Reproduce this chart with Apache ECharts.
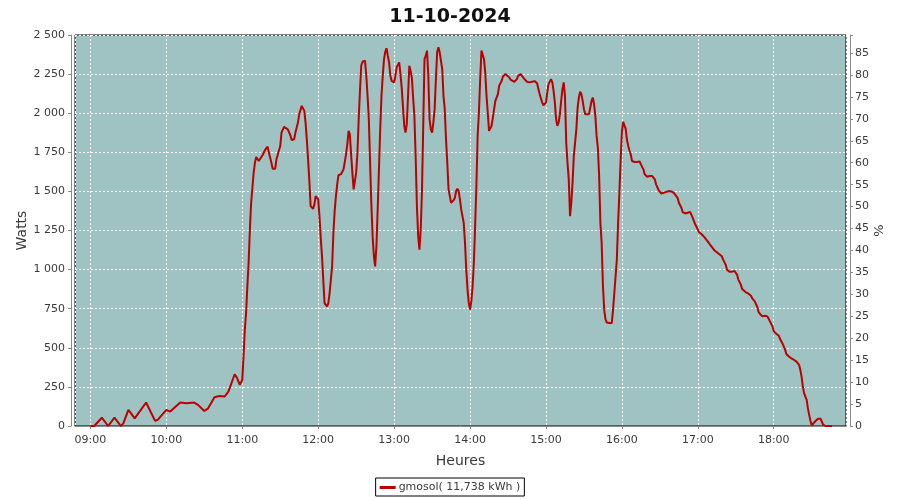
<!DOCTYPE html>
<html>
<head>
<meta charset="utf-8">
<script src="https://cdn.jsdelivr.net/npm/echarts@6/dist/echarts.min.js"></script>
<style>html,body{margin:0;padding:0;background:#fff}#c{width:900px;height:500px}</style>
</head>
<body>
<div id="c"></div>
<script>
var chartTitle = '11-10-2024';
var day = '2024-10-11';
var seriesName = 'gmosol( 11,738 kWh )';
var times = ['09:00','09:03','09:09','09:14','09:19','09:24','09:26','09:30','09:35','09:44','09:51','09:53','10:00','10:03','10:11','10:16','10:22','10:25','10:30','10:33','10:38','10:42','10:46','10:49','10:54','10:56','10:58','11:00',
'11:01','11:02','11:03','11:04','11:05','11:06','11:07','11:09','11:10','11:11','11:13','11:14','11:16','11:18','11:20','11:21','11:23','11:24','11:26','11:27','11:30','11:31','11:33','11:34','11:36','11:38','11:39','11:41','11:42','11:44','11:45','11:47','11:49','11:50','11:51','11:52','11:53','11:54','11:56','11:57','11:58',
'12:00','12:01','12:02','12:03','12:04','12:05','12:07','12:08','12:09','12:10','12:11','12:12','12:13','12:14','12:15','12:16','12:18','12:20','12:22','12:23','12:24','12:25','12:26','12:27','12:28','12:29','12:30','12:31','12:32','12:33','12:34','12:35','12:37','12:38','12:39','12:40','12:41','12:42','12:43','12:44','12:45','12:46','12:47','12:48','12:49','12:50','12:51','12:52','12:53','12:54','12:55','12:56','12:57','12:58',
'13:00','13:01','13:02','13:04','13:05','13:06','13:07','13:08','13:09','13:10','13:11','13:12','13:13','13:14','13:15','13:16','13:17','13:18','13:19','13:20','13:21','13:22','13:23','13:24','13:25','13:26','13:27','13:28','13:29','13:30','13:31','13:32','13:33','13:34','13:35','13:36','13:38','13:39','13:40','13:41','13:42','13:43','13:44','13:45','13:47','13:48','13:49','13:50','13:51','13:52','13:53','13:55','13:56','13:57','13:58','13:59',
'14:00','14:01','14:02','14:03','14:04','14:05','14:06','14:07','14:08','14:09','14:10','14:11','14:12','14:13','14:14','14:15','14:16','14:17','14:18','14:19','14:20','14:22','14:23','14:25','14:26','14:28','14:29','14:31','14:32','14:35','14:37','14:38','14:40','14:41','14:43','14:45','14:47','14:49','14:51','14:53','14:54','14:55','14:57','14:58',
'15:00','15:01','15:02','15:04','15:05','15:06','15:07','15:08','15:09','15:10','15:11','15:12','15:13','15:14','15:15','15:16','15:17','15:18','15:19','15:20','15:21','15:22','15:24','15:25','15:26','15:27','15:28','15:29','15:30','15:31','15:34','15:35','15:36','15:37','15:38','15:39','15:40','15:41','15:42','15:43','15:44','15:45','15:46','15:47','15:48','15:50','15:52','15:53','15:54','15:55','15:56','15:57','15:58','15:59',
'16:00','16:01','16:02','16:03','16:04','16:05','16:06','16:07','16:08','16:10','16:12','16:14','16:15','16:17','16:18','16:20','16:22','16:24','16:26','16:27','16:29','16:31','16:33','16:34','16:37','16:39','16:41','16:42','16:44','16:45','16:47','16:48','16:50','16:52','16:54','16:55','16:56','16:58',
'17:00','17:01','17:03','17:05','17:07','17:09','17:11','17:13','17:15','17:17','17:19','17:20','17:22','17:23','17:25','17:27','17:29','17:31','17:32','17:34','17:35','17:38','17:40','17:42','17:43','17:45','17:47','17:48','17:49','17:51','17:53','17:55','17:57','17:59',
'18:00','18:02','18:04','18:05','18:07','18:09','18:10','18:12','18:14','18:16','18:18','18:20','18:21','18:22','18:23','18:24','18:26','18:27','18:28','18:29','18:30','18:31','18:33','18:35','18:36','18:37','18:38','18:39','18:41','18:46'];
var watts = [0,0,53,0,53,0,17,103,49,150,34,38,103,92,150,145,150,135,96,113,184,192,188,220,331,305,263,295,
444,615,722,893,1043,1256,1427,1620,1684,1720,1694,1688,1731,1765,1786,1748,1684,1645,1645,1705,1790,1876,1912,1919,1897,1859,1829,1833,1876,1940,1994,2047,2015,1940,1833,1705,1566,1406,1389,1417,1470,
1449,1342,1203,1085,936,786,765,786,850,936,1021,1235,1374,1470,1545,1603,1610,1641,1737,1801,1887,1865,1737,1620,1513,1502,1620,1748,1962,2143,2303,2329,2335,2239,2111,1962,1684,1417,1214,1085,1021,1150,1385,1641,1897,2111,2239,2346,2393,2415,2368,2325,2239,2207,
2197,2239,2293,2325,2250,2160,2040,1920,1876,1930,2111,2303,2271,2228,2100,1983,1726,1406,1214,1128,1256,1500,1919,2346,2368,2400,2239,1962,1897,1876,1940,2026,2218,2389,2421,2389,2282,2111,2026,1833,1684,1513,1470,1427,1444,1459,1502,1517,1502,1449,1385,1299,1171,1000,872,786,
744,797,893,1043,1278,1534,1855,2004,2218,2400,2389,2346,2261,2111,2004,1887,1880,1919,1972,2026,2079,2122,2175,2207,2235,2250,2250,2229,2214,2201,2218,2239,2250,2239,2218,2201,2197,2201,2205,2192,2154,2122,2068,2051,
2068,2132,2186,2218,2197,2143,2068,1962,1919,1940,1994,2079,2154,2197,2111,1812,1684,1577,1342,1427,1556,1726,1897,2036,2100,2137,2122,2079,2026,1994,1994,2036,2079,2100,2058,1983,1855,1780,1600,1299,1171,900,744,684,662,658,658,744,850,957,1064,1299,1491,1700,
1880,1944,1935,1900,1830,1790,1760,1737,1694,1688,1688,1692,1673,1641,1609,1594,1598,1598,1577,1545,1509,1487,1491,1500,1502,1500,1491,1481,1459,1427,1395,1368,1359,1364,1368,1359,1331,1288,
1256,1239,1226,1209,1188,1167,1145,1124,1111,1098,1085,1064,1032,1000,987,987,991,968,936,904,876,855,846,833,816,797,761,731,718,701,705,701,669,637,
605,590,577,556,526,487,459,444,432,423,412,391,359,316,252,209,167,113,71,34,4,13,32,47,53,47,28,9,0,0];
var wattsTicks = {min: 0, max: 2500, step: 250};
var pctTicks = {min: 0, max: 89.1, step: 5};

function ts(t) {
  var p = t.split(':');
  return new Date(2024, 9, 11, +p[0], +p[1], +(p[2] || 0)).getTime();
}
var data = times.map(function (t, i) { return [ts(t), watts[i]]; });
var font = 'DejaVu Sans';
var txt = '#3a3a3a';
var axisGray = '#8a8a8a';

var chart = echarts.init(document.getElementById('c'), null, {renderer: 'canvas'});
chart.setOption({
  animation: false,
  backgroundColor: '#fff',
  title: {
    text: chartTitle, left: 'center', top: 3,
    textStyle: {fontFamily: font, fontSize: 19, fontWeight: 'bold', color: '#111'}
  },
  legend: {
    data: [seriesName], left: 'center', top: 478,
    icon: 'rect', itemWidth: 16, itemHeight: 3, itemGap: 4,
    borderColor: '#000', borderWidth: 1, padding: [4, 4, 3, 4],
    textStyle: {fontFamily: font, fontSize: 11, color: txt, padding: [0, 0, 0, -2]}
  },
  grid: {
    left: 75, right: 54, top: 35, bottom: 74, show: true,
    backgroundColor: '#9ec3c2', borderColor: '#000', borderWidth: 1
  },
  xAxis: {
    type: 'time',
    min: ts('08:47:48'), max: ts('18:57:06'),
    minInterval: 3600000, maxInterval: 3600000,
    offset: 4,
    name: 'Heures', nameLocation: 'middle', nameGap: 24, nameMoveOverlap: false,
    nameTextStyle: {fontFamily: font, fontSize: 14, color: txt},
    axisLine: {show: true, lineStyle: {color: axisGray}},
    axisTick: {show: true, length: 3, lineStyle: {color: axisGray}},
    axisLabel: {
      fontFamily: font, fontSize: 11, color: txt, margin: 5,
      showMinLabel: false, showMaxLabel: false,
      formatter: function (v) {
        var d = new Date(v);
        var h = d.getHours(), m = d.getMinutes();
        return (h < 10 ? '0' : '') + h + ':' + (m < 10 ? '0' : '') + m;
      }
    },
    splitLine: {show: true, lineStyle: {color: '#ffffff', type: [2, 2], width: 1}}
  },
  yAxis: [{
    type: 'value', position: 'left', offset: 4,
    min: wattsTicks.min, max: wattsTicks.max, interval: wattsTicks.step,
    name: 'Watts', nameLocation: 'middle', nameGap: 42, nameRotate: 90, nameMoveOverlap: false,
    nameTextStyle: {fontFamily: font, fontSize: 14, color: txt},
    axisLine: {show: true, lineStyle: {color: axisGray}},
    axisTick: {show: true, length: 3, lineStyle: {color: axisGray}},
    axisLabel: {
      fontFamily: font, fontSize: 11, color: txt, margin: 6,
      formatter: function (v) { return String(v).replace(/\B(?=(\d{3})+(?!\d))/g, ' '); }
    },
    splitLine: {show: true, lineStyle: {color: '#ffffff', type: [2, 2], width: 1}}
  }, {
    type: 'value', position: 'right', offset: 4,
    min: pctTicks.min, max: pctTicks.max, interval: pctTicks.step,
    name: '%', nameLocation: 'middle', nameGap: 23, nameRotate: 90, nameMoveOverlap: false,
    nameTextStyle: {fontFamily: font, fontSize: 13, color: txt},
    axisLine: {show: true, lineStyle: {color: axisGray}},
    axisTick: {show: true, length: 3, lineStyle: {color: axisGray}},
    axisLabel: {fontFamily: font, fontSize: 11, color: txt, margin: 5,
      formatter: function (v) { return v > 85.5 ? '' : String(v); }},
    splitLine: {show: false}
  }],
  series: [{
    name: seriesName, type: 'line', yAxisIndex: 0,
    data: data, showSymbol: false, symbol: 'none',
    lineStyle: {color: '#bb0000', width: 2},
    itemStyle: {color: '#bb0000'}
  }]
});
</script>
</body>
</html>
